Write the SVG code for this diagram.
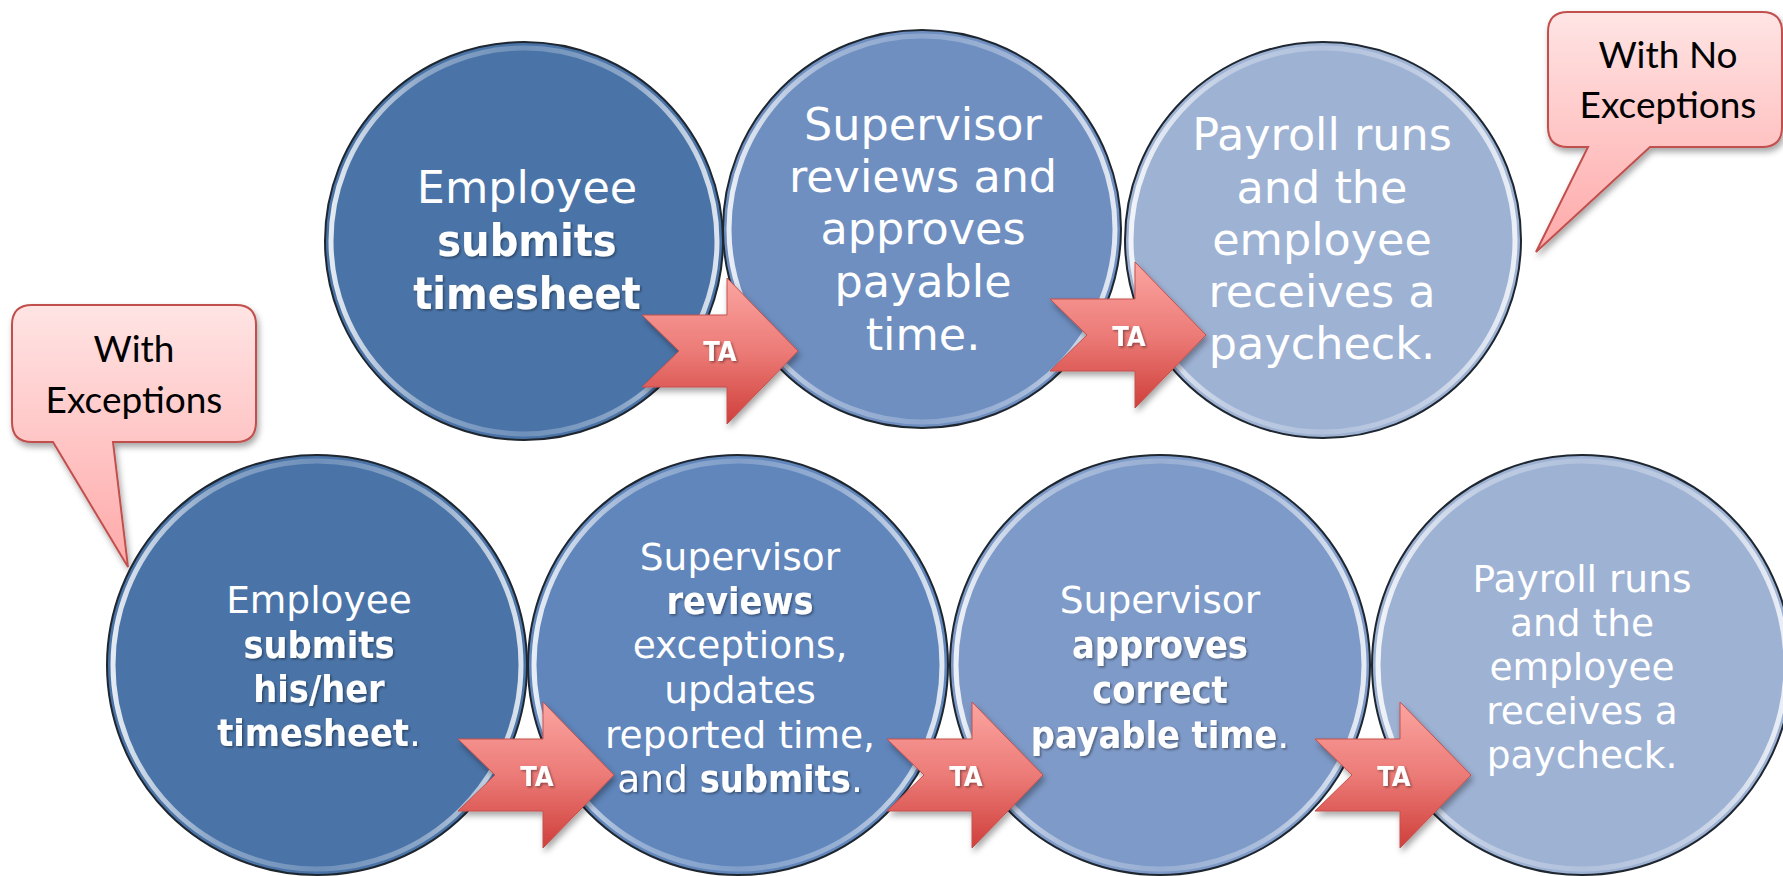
<svg xmlns="http://www.w3.org/2000/svg" width="1783" height="876" viewBox="0 0 1783 876">
  <defs>
    <linearGradient id="ring" x1="0" y1="0" x2="1" y2="0">
      <stop offset="0" stop-color="#ffffff" stop-opacity="0.85"/>
      <stop offset="0.25" stop-color="#ffffff" stop-opacity="0.35"/>
      <stop offset="0.5" stop-color="#ffffff" stop-opacity="0.2"/>
      <stop offset="0.75" stop-color="#ffffff" stop-opacity="0.35"/>
      <stop offset="1" stop-color="#ffffff" stop-opacity="0.8"/>
    </linearGradient>
    <linearGradient id="arrowFill" x1="0" y1="0" x2="0" y2="1">
      <stop offset="0" stop-color="#fba5a1"/>
      <stop offset="0.5" stop-color="#ec7b77"/>
      <stop offset="1" stop-color="#cf3f3b"/>
    </linearGradient>
    <linearGradient id="calloutFill" x1="0" y1="0" x2="0" y2="1">
      <stop offset="0" stop-color="#ffe4e4"/>
      <stop offset="1" stop-color="#ffa9a9"/>
    </linearGradient>
    <filter id="dropShadow" x="-20%" y="-20%" width="150%" height="150%">
      <feDropShadow dx="2" dy="4" stdDeviation="3" flood-color="#000" flood-opacity="0.35"/>
    </filter>
    <filter id="textShadow" x="-10%" y="-30%" width="130%" height="170%">
      <feDropShadow dx="1.5" dy="1.5" stdDeviation="1" flood-color="#000" flood-opacity="0.4"/>
    </filter>
    <path id="arrow" d="M0,-36 H85 V-73 L156,0 L85,73 V36 H0 L37,0 Z"/>
  </defs>
  <style>
    .disc { stroke: #1e2630; stroke-width: 2; }
    .bevel { fill: none; stroke: url(#ring); stroke-width: 5; }
    .t1, .t2 { fill: #ffffff; font-family: "DejaVu Sans", sans-serif; text-anchor: middle; }
    .t1 { font-size: 44.5px; }
    .t2 { font-size: 37.5px; }
    .b, .ta { font-family: "DejaVu Sans Condensed", "DejaVu Sans", sans-serif; font-stretch: condensed; font-weight: bold; }
    .sh { filter: url(#textShadow); }
    .arrow { fill: url(#arrowFill); stroke: #c4504c; stroke-width: 1; filter: url(#dropShadow); }
    .ta { fill: #ffffff; font-size: 27px; text-anchor: middle; filter: url(#textShadow); }
    .callout { fill: url(#calloutFill); stroke: #c0504d; stroke-width: 2; filter: url(#dropShadow); }
    .ct { fill: #000000; font-family: "Lato", "Liberation Sans", sans-serif; font-size: 37px; text-anchor: middle; }
  </style>

  <rect width="1783" height="876" fill="#ffffff"/>

  <!-- Callouts -->
  <g id="callout-with-exceptions">
    <path class="callout" d="M32,305 H236 Q256,305 256,325 V422 Q256,442 236,442 H113 L128,567 L53,442 H32 Q12,442 12,422 V325 Q12,305 32,305 Z"/>
    <text class="ct" x="134" y="362">With</text>
    <text class="ct" x="134" y="413">Exceptions</text>
  </g>
  <g id="callout-no-exceptions">
    <path class="callout" d="M1568,12 H1762 Q1782,12 1782,32 V127 Q1782,147 1762,147 H1650 L1536,252 L1588,147 H1568 Q1548,147 1548,127 V32 Q1548,12 1568,12 Z"/>
    <text class="ct" x="1668" y="68">With No</text>
    <text class="ct" x="1668" y="118">Exceptions</text>
  </g>

  <!-- Row 1: no exceptions -->
  <g id="n1-submit">
    <circle class="disc" cx="524" cy="241" r="199" fill="#4a74a8"/>
    <circle class="bevel" cx="524" cy="241" r="193"/>
    <text class="t1" x="527" y="203">Employee</text>
    <text class="t1 b sh" x="527" y="256">submits</text>
    <text class="t1 b sh" x="527" y="309">timesheet</text>
  </g>
  <g id="n1-approve">
    <circle class="disc" cx="922" cy="229" r="199" fill="#6f8fc1"/>
    <circle class="bevel" cx="922" cy="229" r="193"/>
    <text class="t1" x="923" y="140">Supervisor</text>
    <text class="t1" x="923" y="192">reviews and</text>
    <text class="t1" x="923" y="244">approves</text>
    <text class="t1" x="923" y="297">payable</text>
    <text class="t1" x="923" y="350">time.</text>
  </g>
  <g id="n1-payroll">
    <circle class="disc" cx="1323" cy="240" r="198" fill="#9eb2d4"/>
    <circle class="bevel" cx="1323" cy="240" r="192"/>
    <text class="t1" x="1322" y="150">Payroll runs</text>
    <text class="t1" x="1322" y="203">and the</text>
    <text class="t1" x="1322" y="255">employee</text>
    <text class="t1" x="1322" y="307">receives a</text>
    <text class="t1" x="1322" y="359">paycheck.</text>
  </g>

  <!-- Row 2: with exceptions -->
  <g id="n2-submit">
    <circle class="disc" cx="317" cy="665" r="210" fill="#4a74a8"/>
    <circle class="bevel" cx="317" cy="665" r="204"/>
    <text class="t2" x="319" y="613">Employee</text>
    <text class="t2 b sh" x="319" y="658">submits</text>
    <text class="t2 b sh" x="319" y="702">his/her</text>
    <text class="t2 sh" x="319" y="746"><tspan class="b">timesheet</tspan>.</text>
  </g>
  <g id="n2-review">
    <circle class="disc" cx="738" cy="665" r="210" fill="#6086bc"/>
    <circle class="bevel" cx="738" cy="665" r="204"/>
    <text class="t2" x="740" y="570">Supervisor</text>
    <text class="t2 b sh" x="740" y="614">reviews</text>
    <text class="t2" x="740" y="658">exceptions,</text>
    <text class="t2" x="740" y="703">updates</text>
    <text class="t2" x="740" y="748">reported time,</text>
    <text class="t2 sh" x="740" y="792">and <tspan class="b">submits</tspan>.</text>
  </g>
  <g id="n2-approve">
    <circle class="disc" cx="1160" cy="665" r="210" fill="#7e9ac8"/>
    <circle class="bevel" cx="1160" cy="665" r="204"/>
    <text class="t2" x="1160" y="613">Supervisor</text>
    <text class="t2 b sh" x="1160" y="658">approves</text>
    <text class="t2 b sh" x="1160" y="703">correct</text>
    <text class="t2 sh" x="1160" y="748"><tspan class="b">payable time</tspan>.</text>
  </g>
  <g id="n2-payroll">
    <circle class="disc" cx="1582" cy="665" r="210" fill="#9eb2d4"/>
    <circle class="bevel" cx="1582" cy="665" r="204"/>
    <text class="t2" x="1582" y="592">Payroll runs</text>
    <text class="t2" x="1582" y="636">and the</text>
    <text class="t2" x="1582" y="680">employee</text>
    <text class="t2" x="1582" y="724">receives a</text>
    <text class="t2" x="1582" y="768">paycheck.</text>
  </g>

  <!-- Connectors: TA hand-off arrows -->
  <g id="connectors">
    <use href="#arrow" class="arrow" transform="translate(642,351)"/>
    <text class="ta" x="720" y="361">TA</text>
    <use href="#arrow" class="arrow" transform="translate(1050,335)"/>
    <text class="ta" x="1129" y="346">TA</text>
    <use href="#arrow" class="arrow" transform="translate(458,775)"/>
    <text class="ta" x="537" y="786">TA</text>
    <use href="#arrow" class="arrow" transform="translate(887,775)"/>
    <text class="ta" x="966" y="786">TA</text>
    <use href="#arrow" class="arrow" transform="translate(1315,775)"/>
    <text class="ta" x="1394" y="786">TA</text>
  </g>
</svg>
